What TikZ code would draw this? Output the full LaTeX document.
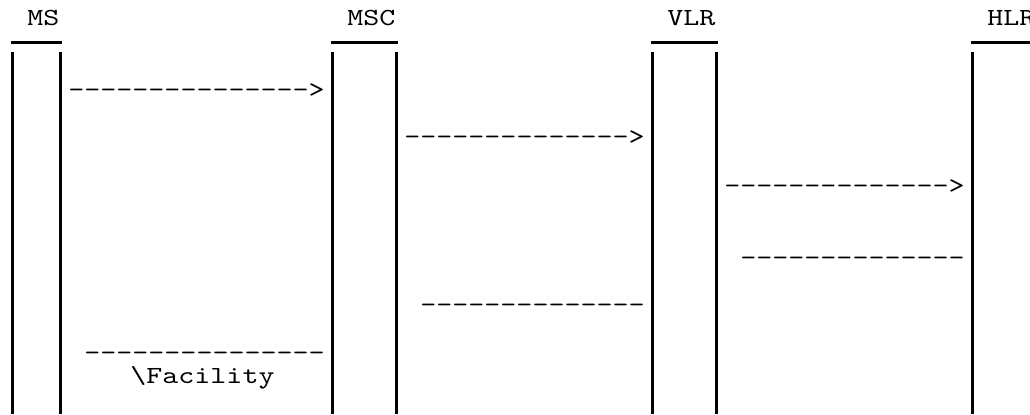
\documentclass[tikz,border=0pt]{standalone}
\usepackage{fontspec}
\newfontfamily\msgfont{lmmono10-regular}[Extension=.otf,FakeStretch=1.24]
\usetikzlibrary{positioning}

\begin{document}
\begin{tikzpicture}[x=0.5pt,y=-0.5pt,
  bar/.style={line width=1.5pt},
  msg/.style={font=\msgfont\fontsize{12.3}{14}\selectfont,inner sep=0pt,anchor=base west}]
\useasboundingbox (0,0) rectangle (1030,414);
\clip (0,0) rectangle (1030,414);
% lifelines: name, left bar, right bar
\foreach \name/\xl/\xr in {MS/12/60,MSC/332/396,VLR/652/716,HLR/972/1036}{
  \node[msg] (\name) at (\xl+15,25) {\name};
  \draw[bar] (\xl-1.5,42) -- (\xr+1.5,42);
  \draw[bar] (\xl,52) -- (\xl,414);
  \draw[bar] (\xr,52) -- (\xr,414);
}
% messages, written as plain text
\node[msg] (m1) at (68,97) {--------------->};
\node[msg] (m2) at (404,144) {-------------->};
\node[msg] (m3) at (724,193) {-------------->};
\node[msg] (m4) at (740,265) {--------------};
\node[msg] (m5) at (420,312) {--------------};
\node[msg] (m6) at (84,360) {---------------};
\node[msg] (fac) at (130,383) {\textbackslash Facility};
\end{tikzpicture}
\end{document}
